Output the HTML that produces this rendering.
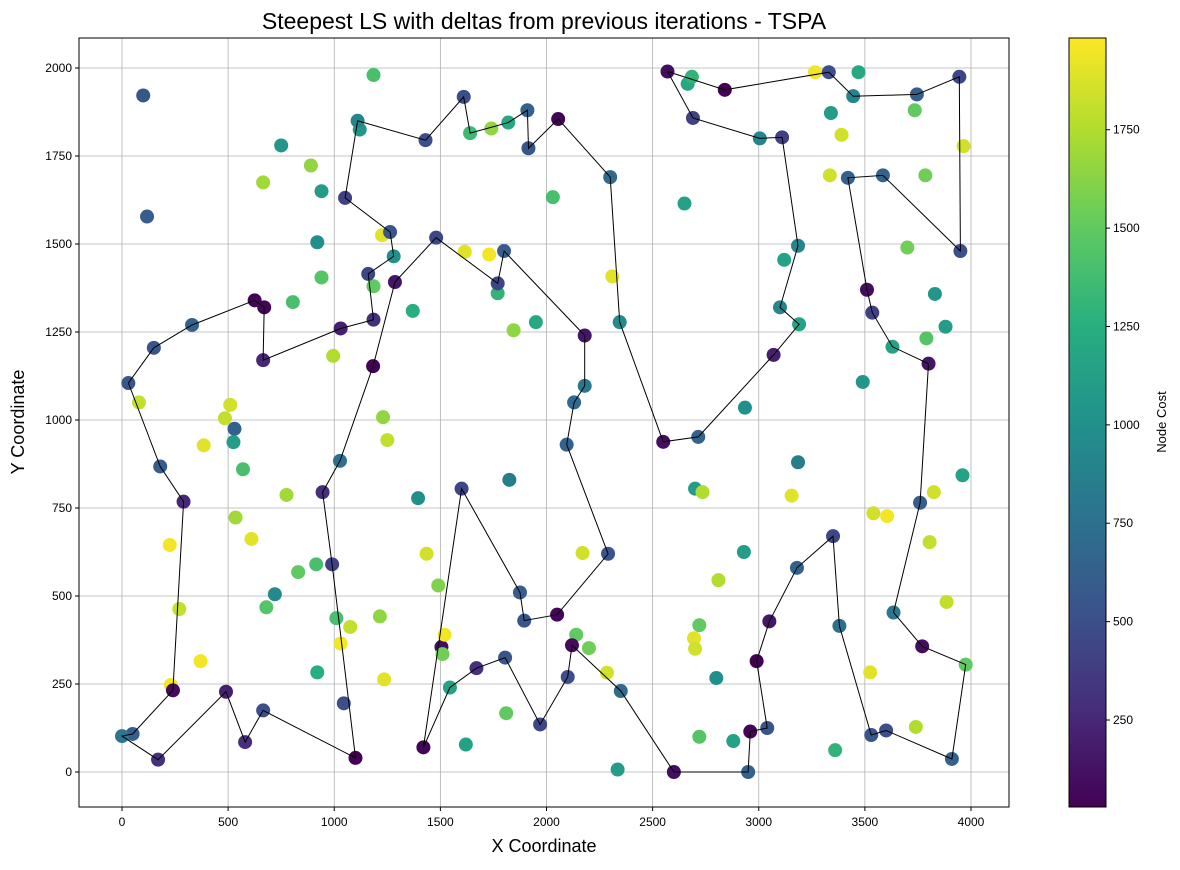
<!DOCTYPE html>
<html><head><meta charset="utf-8"><style>
body{margin:0;background:#fff;font-family:"Liberation Sans",sans-serif;}
svg text{font-family:"Liberation Sans",sans-serif;fill:#000;}
</style></head><body>
<svg id="chart" width="1180" height="865" xmlns="http://www.w3.org/2000/svg">
<text x="544" y="29" text-anchor="middle" font-size="23">Steepest LS with deltas from previous iterations - TSPA</text>
<text x="544" y="852" text-anchor="middle" font-size="18">X Coordinate</text>
<text transform="translate(24,422) rotate(-90)" text-anchor="middle" font-size="18">Y Coordinate</text>
<g id="grid"></g>
<g id="ticks"></g>
<g id="points"></g>
<g id="tour"></g>
<rect x="79" y="38" width="930" height="769" fill="none" stroke="#000" stroke-width="1"/>
<defs><linearGradient id="vir" x1="0" y1="1" x2="0" y2="0">
<stop offset="0" stop-color="#440154"/><stop offset="0.125" stop-color="#472c7a"/><stop offset="0.25" stop-color="#3b528b"/><stop offset="0.375" stop-color="#2c728e"/><stop offset="0.5" stop-color="#21918c"/><stop offset="0.625" stop-color="#28ae80"/><stop offset="0.75" stop-color="#5ec962"/><stop offset="0.875" stop-color="#addc30"/><stop offset="1" stop-color="#fde725"/></linearGradient></defs>
<rect x="1069" y="38" width="37" height="769" fill="url(#vir)" stroke="#000" stroke-width="1"/>
<g id="cbticks"></g>
<text transform="translate(1166,422) rotate(-90)" text-anchor="middle" font-size="13">Node Cost</text>
</svg>
<script>
const tourX=[1051,1263,1280,1160,1185,1030,665,670,625,330,150,30,180,290,240,50,0,170,490,580,665,1100,990,945,1027,1183,1286,1480,1770,1800,2180,2180,2130,2095,2290,2050,1895,1875,1600,1420,1545,1670,1805,1970,2100,2120,2350,2600,2950,2960,3040,2990,3050,3180,3350,3380,3530,3600,3910,3975,3770,3635,3760,3800,3630,3535,3510,3420,3585,3950,3945,3745,3445,3330,2840,2570,2690,3005,3110,3185,3100,3190,3070,2715,2550,2345,2300,2055,1915,1910,1820,1640,1610,1430,1110];
const tourY=[1631,1534,1465,1415,1285,1260,1170,1320,1340,1270,1205,1105,868,768,232,108,102,35,228,85,175,40,590,795,884,1153,1392,1518,1388,1480,1240,1097,1050,930,620,447,430,510,805,70,240,295,325,135,270,360,230,0,0,115,125,315,428,580,670,415,105,118,37,305,357,453,765,1160,1208,1305,1370,1688,1695,1480,1975,1925,1920,1988,1938,1990,1858,1800,1803,1495,1320,1272,1185,952,938,1278,1690,1855,1772,1880,1845,1815,1918,1795,1850];
const tourCost=[400,550,1000,450,300,200,250,60,50,650,550,550,600,250,80,600,800,300,200,300,500,30,400,300,750,40,150,450,450,600,150,800,700,650,550,60,550,600,450,50,1150,300,550,450,500,80,700,100,650,50,550,30,150,650,450,750,550,500,650,1500,100,800,600,150,1150,400,100,650,650,500,450,600,900,500,30,100,400,900,400,900,900,1150,200,650,100,950,700,50,550,650,1200,1350,500,500,900];
const otherX=[1505,100,118,750,665,890,940,920,940,805,1185,1120,1225,1185,1370,995,1230,1250,1395,1435,1490,1520,1510,1620,1740,1615,1730,1770,1845,1950,2030,2310,1825,2170,2140,2200,1810,2285,2335,2650,2665,2685,2700,2735,2695,2700,2720,2720,2810,2800,2880,2935,2930,3185,3120,3155,3265,3340,3390,3470,3335,3490,3540,3605,3525,3360,3740,3735,3700,3785,3965,3830,3790,3880,3960,3825,3805,3885,80,485,510,530,525,570,385,535,610,775,680,720,830,915,920,1010,1075,1030,1045,1215,1235,225,270,370,230];
const otherY=[355,1922,1578,1780,1675,1723,1650,1505,1405,1335,1980,1825,1525,1380,1310,1182,1008,943,778,620,530,390,335,78,1828,1478,1470,1360,1255,1278,1633,1408,830,622,390,352,167,282,7,1615,1955,1975,805,795,380,350,417,100,545,267,88,1035,625,880,1455,785,1988,1872,1810,1988,1695,1108,735,727,283,62,128,1880,1490,1695,1778,1358,1232,1265,843,795,653,483,1050,1005,1043,975,937,860,928,723,662,787,468,505,568,590,283,437,412,365,195,442,263,645,463,315,247];
const otherCost=[100,550,600,1050,1700,1650,1100,1000,1450,1400,1400,1050,1900,1500,1250,1750,1650,1800,1000,1850,1600,1950,1550,1150,1650,1900,1950,1300,1650,1200,1400,1900,850,1850,1500,1550,1500,1850,1100,1150,1200,1300,1100,1750,1900,1850,1500,1450,1750,1000,1150,1000,1100,850,1150,1900,1950,1100,1850,1200,1850,1050,1850,1950,1900,1300,1750,1500,1550,1550,1850,1050,1450,1100,1150,1850,1800,1800,1800,1800,1850,650,1100,1400,1900,1700,1900,1700,1450,950,1500,1400,1250,1400,1800,1950,500,1650,1900,1950,1800,1950,1950];
const xTicks=[0,500,1000,1500,2000,2500,3000,3500,4000];
const yTicks=[0,250,500,750,1000,1250,1500,1750,2000];
const cTicks=[250,500,750,1000,1250,1500,1750];
const cMin=29,cMax=1983;
const NS='http://www.w3.org/2000/svg';
const sx=v=>122+v*0.21225, sy=v=>772-v*0.352;
const cy=v=>807-(v-cMin)/(cMax-cMin)*769;
const stops=[[68,1,84],[71,44,122],[59,82,139],[44,114,142],[33,145,140],[40,174,128],[94,201,98],[173,220,48],[253,231,37]];
function vir(v){let t=Math.max(0,Math.min(1,(v-cMin)/(cMax-cMin)))*8;let i=Math.min(7,Math.floor(t)),f=t-i;const a=stops[i],b=stops[i+1];return 'rgb('+a.map((c,k)=>Math.round(c+(b[k]-c)*f)).join(',')+')';}
function mk(tag,attrs,parent){const e=document.createElementNS(NS,tag);for(const k in attrs)e.setAttribute(k,attrs[k]);parent.appendChild(e);return e;}
const grid=document.getElementById('grid'),ticks=document.getElementById('ticks');
xTicks.forEach(v=>{const x=sx(v);
const l=mk('line',{x1:x,x2:x,y1:38,y2:807,stroke:'#b0b0b0','stroke-width':0.8},grid);


mk('line',{x1:x,x2:x,y1:807,y2:811,stroke:'#000'},ticks);
const t=mk('text',{x:x,y:826,'text-anchor':'middle','font-size':12},ticks);t.textContent=v;

});
yTicks.forEach(v=>{const y=sy(v);
const l=mk('line',{x1:79,x2:1009,y1:y,y2:y,stroke:'#b0b0b0','stroke-width':0.8},grid);


mk('line',{x1:75,x2:79,y1:y,y2:y,stroke:'#000'},ticks);
const t=mk('text',{x:72,y:y+4,'text-anchor':'end','font-size':12},ticks);t.textContent=v;

});
const cb=document.getElementById('cbticks');
cTicks.forEach(v=>{const y=cy(v);
mk('line',{x1:1106,x2:1110,y1:y,y2:y,stroke:'#000'},cb);
const t=mk('text',{x:1113,y:y+4,'font-size':12},cb);t.textContent=v;

});
const pts=document.getElementById('points');
function dot(x,y,c){const e=mk('circle',{cx:sx(x),cy:sy(y),r:7,fill:vir(c)},pts);

}
otherX.forEach((x,i)=>dot(x,otherY[i],otherCost[i]));
tourX.forEach((x,i)=>dot(x,tourY[i],tourCost[i]));
const d=tourX.map((x,i)=>(i?'L':'M')+sx(x).toFixed(1)+','+sy(tourY[i]).toFixed(1)).join('')+'Z';
const p=mk('path',{d:d,fill:'none',stroke:'#000','stroke-width':1},document.getElementById('tour'));


</script>
</body></html>
